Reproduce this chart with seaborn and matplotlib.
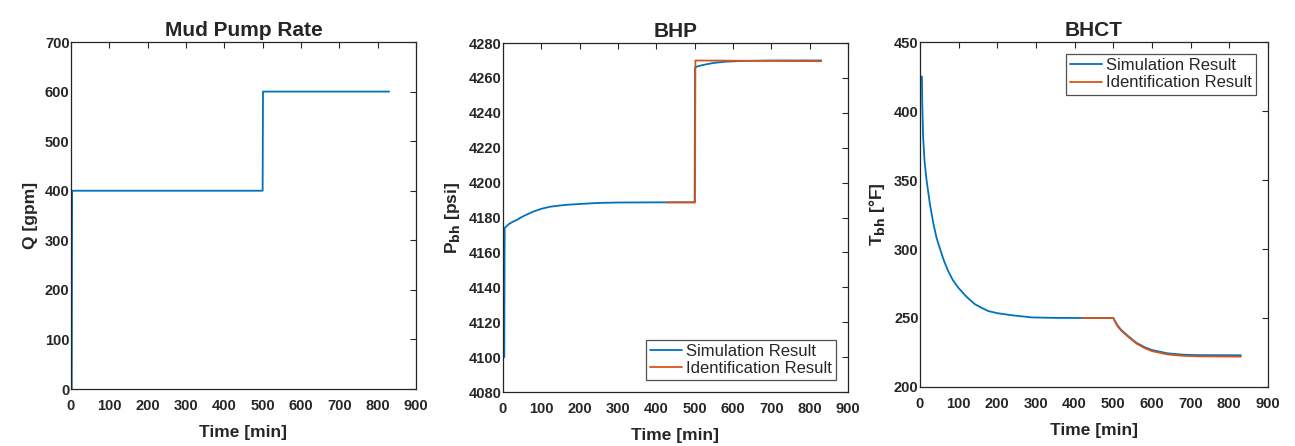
import matplotlib
matplotlib.use("Agg")
import matplotlib.pyplot as plt
import seaborn as sns
import pandas as pd

# Data
q_time = [0, 2, 3, 500, 501, 830]
q_rate = [0, 0, 400, 400, 600, 600]

bhp_sim_time = [3.4, 4.4, 15, 25, 36, 48, 60, 79, 100, 123, 145, 166, 210, 253, 300, 400, 500,
                501, 510, 530, 550, 580, 620, 700, 830]
bhp_sim = [4100, 4174, 4176.2, 4177.5, 4178.6, 4180.2, 4181.5, 4183.4, 4185, 4186.2, 4186.8,
           4187.3, 4187.9, 4188.4, 4188.6, 4188.7, 4188.7,
           4266, 4266.8, 4267.8, 4268.6, 4269.3, 4269.7, 4270, 4270]
bhp_id_time = [427, 501, 502, 830]
bhp_id = [4188.7, 4188.7, 4270, 4269.6]

bhct_sim_time = [0, 5, 6, 8, 12, 17, 26, 35, 43, 52, 62, 73, 85, 99, 120, 142, 160, 177, 200,
                 237, 290, 350, 420, 500, 510, 520, 540, 560, 580, 600, 640, 680, 720, 830]
bhct_sim = [425, 425, 405, 382, 363, 350, 332, 318, 308, 300, 291.5, 284, 277.5, 272, 265.5,
            260, 257.3, 255, 253.5, 252, 250.4, 250.1, 250, 250,
            245, 241.5, 236.5, 232, 229, 226.8, 224.4, 223.4, 223.1, 223]
bhct_id_time = [420, 500, 510, 520, 540, 560, 580, 600, 640, 680, 720, 830]
bhct_id = [250, 250, 244.5, 241, 236, 231.5, 228.3, 226, 223.6, 222.6, 222.2, 222]

blue = "#0072BD"
orange = "#D95319"

sns.set_style("white")
plt.rcParams["font.family"] = ["Liberation Sans", "DejaVu Sans"]
plt.rcParams["mathtext.default"] = "bf"

fig = plt.figure(figsize=(12.95, 4.46), dpi=100)
ax1 = fig.add_axes([0.0548, 0.1278, 0.2664, 0.778])
ax2 = fig.add_axes([0.3884, 0.121, 0.2664, 0.7825])
ax3 = fig.add_axes([0.7104, 0.1323, 0.2687, 0.7735])


def line(ax, t, v, color, label=None):
    df = pd.DataFrame({"t": t, "v": v})
    sns.lineplot(data=df, x="t", y="v", ax=ax, color=color, lw=1.3,
                 sort=False, estimator=None, label=label)


def style(ax, title, ylabel, ylim, yticks):
    ax.set_xlim(0, 900)
    ax.set_xticks(range(0, 901, 100))
    ax.set_ylim(*ylim)
    ax.set_yticks(yticks)
    ax.set_title(title, fontsize=15, fontweight="bold", pad=4)
    ax.set_xlabel("Time [min]", fontsize=12.5, fontweight="bold", labelpad=9)
    ax.set_ylabel(ylabel, fontsize=12.5, fontweight="bold", labelpad=5)
    ax.tick_params(direction="in", length=4, width=0.8, color="#262626",
                   labelsize=10.5, top=True, right=True)
    ax.tick_params(axis="x", pad=7)
    ax.tick_params(axis="y", pad=1)
    for lab in ax.get_xticklabels() + ax.get_yticklabels():
        lab.set_fontweight("bold")
    for s in ax.spines.values():
        s.set_color("#262626")
        s.set_linewidth(0.9)


def legend(ax, loc):
    leg = ax.legend(loc=loc, fontsize=12, frameon=True, fancybox=False,
                    borderpad=0.25, labelspacing=0.15, handlelength=1.9,
                    handletextpad=0.25, borderaxespad=0.7)
    leg.get_frame().set_edgecolor("#262626")
    leg.get_frame().set_linewidth(0.9)


line(ax1, q_time, q_rate, blue)
style(ax1, "Mud Pump Rate", "Q [gpm]", (0, 700), range(0, 701, 100))

line(ax2, bhp_sim_time, bhp_sim, blue, "Simulation Result")
line(ax2, bhp_id_time, bhp_id, orange, "Identification Result")
style(ax2, "BHP", "P$_{bh}$ [psi]", (4080, 4280), range(4080, 4281, 20))
legend(ax2, "lower right")

line(ax3, bhct_sim_time, bhct_sim, blue, "Simulation Result")
line(ax3, bhct_id_time, bhct_id, orange, "Identification Result")
style(ax3, "BHCT", "T$_{bh}$ [°F]", (200, 450), range(200, 451, 50))
legend(ax3, "upper right")

fig.savefig("out.png", dpi=100)
